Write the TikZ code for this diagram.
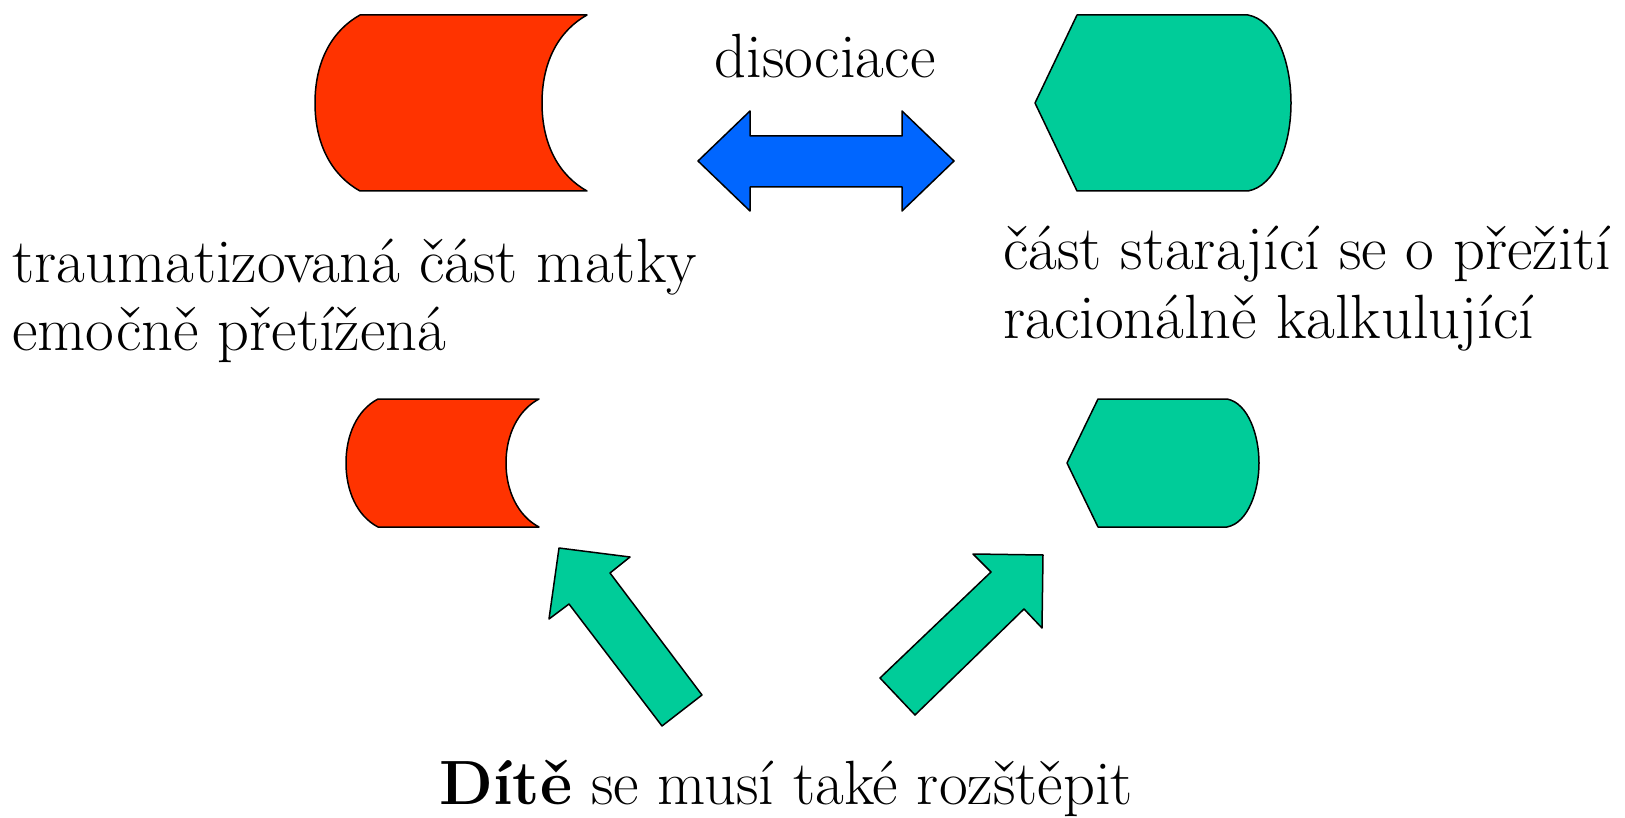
\documentclass[tikz,border=0pt]{standalone}
\usepackage{fontspec}
\definecolor{shred}{RGB}{255,51,0}
\definecolor{shgreen}{RGB}{0,204,153}
\definecolor{shblue}{RGB}{0,102,255}
\begin{document}
\begin{tikzpicture}[x=1pt,y=-1pt,
  shapeline/.style={draw=black,line width=1.5pt,line join=round},
  lbl/.style={inner sep=0pt,anchor=base west,font=\rmfamily\fontsize{62.5}{68}\selectfont}]
\useasboundingbox (0,0) rectangle (1625,818);
% top red (stored data)
\path[shapeline,fill=shred] (360,15) -- (587,15) .. controls (560,30) and (542,60) .. (542,103)
  .. controls (542,146) and (560,176) .. (587,191) -- (360,191)
  .. controls (333,176) and (315,146) .. (315,103) .. controls (315,60) and (333,30) .. (360,15) -- cycle;
% top green (display)
\path[shapeline,fill=shgreen] (1077,15) -- (1248,15) .. controls (1275,20) and (1291,60) .. (1291,103)
  .. controls (1291,146) and (1275,186) .. (1248,191) -- (1077,191) -- (1035,103) -- cycle;
% blue double arrow
\path[shapeline,fill=shblue] (698,161) -- (750,111) -- (750,136) -- (902,136) -- (902,111) -- (954,161)
  -- (902,211) -- (902,187) -- (750,187) -- (750,211) -- cycle;
% bottom red
\path[shapeline,fill=shred] (378,399) -- (539,399) .. controls (518,410) and (506,435) .. (506,463)
  .. controls (506,491) and (518,516) .. (539,527) -- (378,527)
  .. controls (357,516) and (346,491) .. (346,463) .. controls (346,435) and (357,410) .. (378,399) -- cycle;
% bottom green
\path[shapeline,fill=shgreen] (1098,399) -- (1227,399) .. controls (1248,403) and (1259,435) .. (1259,463)
  .. controls (1259,491) and (1248,523) .. (1227,527) -- (1098,527) -- (1067,463) -- cycle;
% up arrows
\path[shapeline,fill=shgreen] (559,548) -- (630,557) -- (610,573) -- (702,695) -- (662,726) -- (569,604) -- (549,619) -- cycle;
\path[shapeline,fill=shgreen] (1043,555) -- (1042,628) -- (1024,609) -- (915,715) -- (880,678) -- (991,572) -- (973,554) -- cycle;
% texts
\node[lbl,anchor=base] (dis) at (825,78) {disociace};
\node[lbl] (l1) at (12,283) {traumatizovaná část matky};
\node[lbl] (l2) at (12,350) {emočně přetížená};
\node[lbl] (r1) at (1003,270) {část starající se o přežití};
\node[lbl] (r2) at (1003,338) {racionálně kalkulující};
\node[lbl,anchor=base] (b) at (786,804) {\textbf{Dítě} se musí také rozštěpit};
\end{tikzpicture}
\end{document}
